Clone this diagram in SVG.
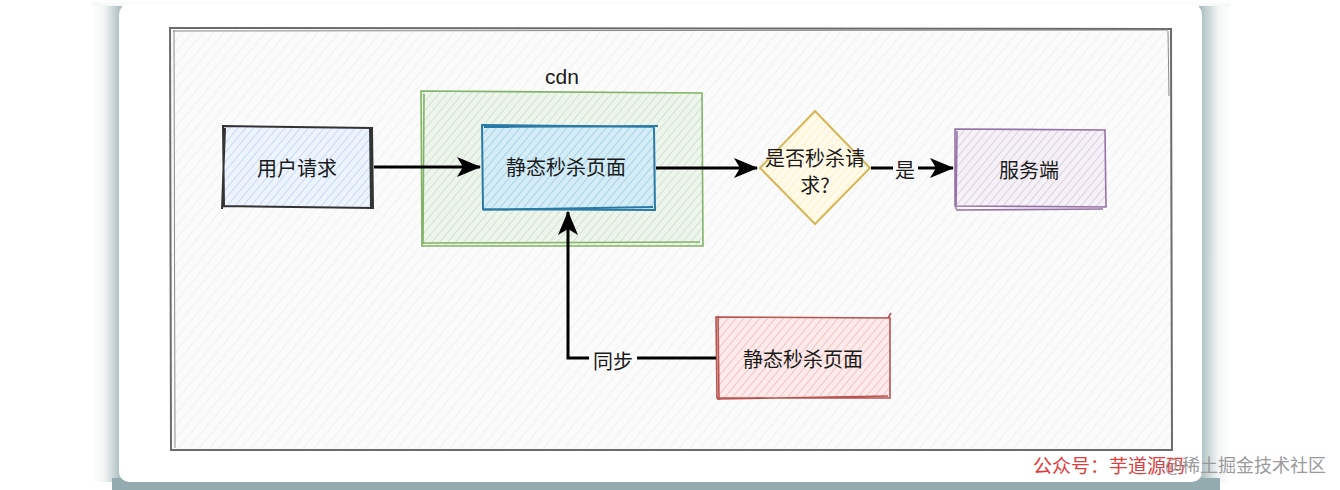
<svg xmlns="http://www.w3.org/2000/svg" width="1340" height="490" viewBox="0 0 1340 490">
<defs>
<linearGradient id="shL" x1="0" y1="0" x2="1" y2="0"><stop offset="0" stop-color="#ffffff"/><stop offset="0.4" stop-color="#f2f5f5"/><stop offset="1" stop-color="#a4b9bc"/></linearGradient>
<linearGradient id="shR" x1="0" y1="0" x2="1" y2="0"><stop offset="0" stop-color="#a4b9bc"/><stop offset="0.6" stop-color="#f2f5f5"/><stop offset="1" stop-color="#ffffff"/></linearGradient>
<linearGradient id="shT" x1="0" y1="0" x2="0" y2="1"><stop offset="0" stop-color="#ffffff"/><stop offset="1" stop-color="#f1f3f3"/></linearGradient>
<pattern id="hGray" width="8" height="8" patternUnits="userSpaceOnUse" patternTransform="rotate(40)"><rect width="8" height="8" fill="#fbfbfb"/><line x1="0" y1="0" x2="0" y2="8" stroke="#ebebeb" stroke-width="1.2"/></pattern>
<pattern id="hBlueL" width="6" height="6" patternUnits="userSpaceOnUse" patternTransform="rotate(40)"><rect width="6" height="6" fill="#eef4fd"/><line x1="0" y1="0" x2="0" y2="6" stroke="#c5daf7" stroke-width="2"/></pattern>
<pattern id="hGreen" width="6" height="6" patternUnits="userSpaceOnUse" patternTransform="rotate(40)"><rect width="6" height="6" fill="#eef5ed"/><line x1="0" y1="0" x2="0" y2="6" stroke="#cfe4cd" stroke-width="2"/></pattern>
<pattern id="hBlue" width="6" height="6" patternUnits="userSpaceOnUse" patternTransform="rotate(40)"><rect width="6" height="6" fill="#d4ecf6"/><line x1="0" y1="0" x2="0" y2="6" stroke="#a6d3e8" stroke-width="2"/></pattern>
<pattern id="hYellow" width="6" height="6" patternUnits="userSpaceOnUse" patternTransform="rotate(40)"><rect width="6" height="6" fill="#fffaea"/><line x1="0" y1="0" x2="0" y2="6" stroke="#fff0c6" stroke-width="2"/></pattern>
<pattern id="hPurple" width="6" height="6" patternUnits="userSpaceOnUse" patternTransform="rotate(40)"><rect width="6" height="6" fill="#f5f1f7"/><line x1="0" y1="0" x2="0" y2="6" stroke="#ddd0e4" stroke-width="2"/></pattern>
<pattern id="hRed" width="6" height="6" patternUnits="userSpaceOnUse" patternTransform="rotate(40)"><rect width="6" height="6" fill="#fcebea"/><line x1="0" y1="0" x2="0" y2="6" stroke="#f3c4c2" stroke-width="2"/></pattern>
<marker id="arrBig" viewBox="0 0 24 20" refX="23" refY="10" markerWidth="24" markerHeight="20" markerUnits="userSpaceOnUse" orient="auto"><path d="M0,0 L24,10 L0,20 L6,10 Z" fill="#000"/></marker>
</defs>
<style>
text{font-family:"Noto Sans CJK SC","Liberation Sans",sans-serif;font-size:20px;fill:#1a1a1a;text-anchor:middle;dominant-baseline:central}
.edge{fill:none;stroke:#000;stroke-width:3}
.sk{fill:none}
</style>
<rect width="1340" height="490" fill="#ffffff"/>
<!-- card shadow -->
<rect x="92" y="0" width="1139" height="8" fill="url(#shT)"/>
<rect x="92" y="6" width="30" height="476" fill="url(#shL)"/>
<rect x="1199" y="6" width="32" height="476" fill="url(#shR)"/>
<rect x="112" y="478" width="1108" height="12" fill="#93abae"/>
<rect x="119" y="4" width="1083" height="478" rx="10" fill="#ffffff"/>
<!-- outer frame -->
<g id="frame">
<rect x="171" y="29" width="1000" height="420" fill="url(#hGray)"/>
<path d="M170,28 L1171,29 L1172,450 L171,450 Z" fill="none" stroke="#6b6b6b" stroke-width="2"/>
<path d="M173,31 L1168,30 M174,30 L175,448 M1168,31 L1169,96" fill="none" stroke="#8a8a8a" stroke-width="1"/>
</g>
<g id="n-user">
<rect x="223" y="127" width="150" height="80" fill="url(#hBlueL)"/>
<path d="M223,126 L372,128 L373,208 L224,206 Z M225,128 L222,209 M370,127 L371,207" class="sk" stroke="#333" stroke-width="2"/>
<text x="297" y="167">用户请求</text>
</g>
<g id="n-cdn">
<rect x="421" y="92" width="281" height="154" fill="url(#hGreen)"/>
<path d="M421,91 L702,93 L703,246 L422,246 Z M424,94 L423,244 M422,243 L700,242" class="sk" stroke="#82b366" stroke-width="1.6"/>
<text x="562" y="76" style="font-family:'Liberation Sans',sans-serif;font-size:21px">cdn</text>
</g>
<g id="n-static">
<rect x="482" y="125" width="173" height="85" fill="url(#hBlue)"/>
<path d="M482,125 L654,127 L655,210 L483,209 Z M484,127 L658,126 M483,210 L653,207" class="sk" stroke="#2a7aa6" stroke-width="2"/>
<text x="566" y="166">静态秒杀页面</text>
</g>
<g id="n-decision">
<path d="M815,111 L870,168 L815,224 L760,168 Z" fill="url(#hYellow)" stroke="#d6b656" stroke-width="2"/>
<text x="815" y="157">是否秒杀请</text>
<text x="815" y="184">求?</text>
</g>
<g id="n-server">
<rect x="955" y="129" width="151" height="78" fill="url(#hPurple)"/>
<path d="M955,129 L1105,130 L1106,207 L955,206 Z M957,131 L956,209 M956,210 L1103,209" class="sk" stroke="#9673a6" stroke-width="1.6"/>
<text x="1029" y="169">服务端</text>
</g>
<g id="n-source">
<rect x="716" y="317" width="174" height="81" fill="url(#hRed)"/>
<path d="M716,317 L890,318 L890,398 L717,398 Z M718,316 L719,400 M717,399 L888,396 M888,318 L891,313" class="sk" stroke="#b85450" stroke-width="1.6"/>
<text x="803" y="358">静态秒杀页面</text>
</g>
<g id="connectors">
<path class="edge" d="M374,167 L480,167" marker-end="url(#arrBig)"/>
<path class="edge" d="M656,168 L757,168" marker-end="url(#arrBig)"/>
<path class="edge" d="M871,168 L893,168"/>
<path class="edge" d="M918,168 L953,168" marker-end="url(#arrBig)"/>
<text x="905" y="169">是</text>
<path class="edge" d="M716,358 L637,358"/>
<path class="edge" d="M589,358 L568,358 L568,212" marker-end="url(#arrBig)"/>
<text x="613" y="360">同步</text>
</g>
<text x="1033" y="464" style="fill:#e03c3c;font-size:19px;text-anchor:start">公众号：芋道源码</text>
<text x="1165" y="464" style="fill:#9a9a9a;font-size:18px;text-anchor:start">@稀土掘金技术社区</text>
</svg>
